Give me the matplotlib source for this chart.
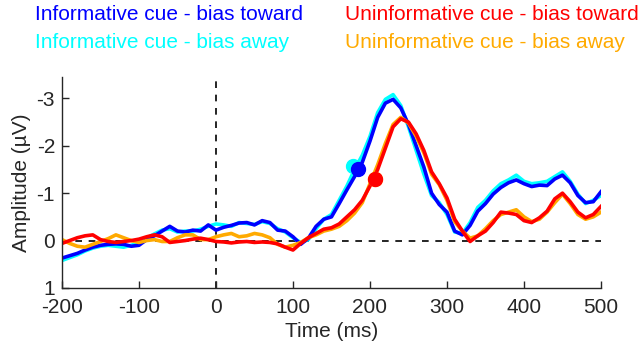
import matplotlib
matplotlib.use("Agg")
import matplotlib.pyplot as plt
import numpy as np

plt.rcParams['font.family'] = ['Liberation Sans', 'DejaVu Sans']

time_ms = np.arange(-200, 501, 10)

# informative cue - bias toward (blue)
info_toward = [0.37, 0.32, 0.27, 0.20, 0.14, 0.10, 0.08, 0.07, 0.08, 0.12,
               0.10, -0.02, -0.10, -0.20, -0.30, -0.20, -0.18, -0.22, -0.20, -0.33,
               -0.22, -0.28, -0.32, -0.37, -0.38, -0.33, -0.42, -0.38, -0.22, -0.20,
               -0.08, 0.08, -0.05, -0.30, -0.45, -0.50, -0.78, -1.07, -1.35, -1.65,
               -2.10, -2.60, -2.90, -2.98, -2.80, -2.45, -2.00, -1.55, -1.00, -0.76,
               -0.60, -0.20, -0.12, -0.32, -0.62, -0.78, -0.98, -1.12, -1.22, -1.28,
               -1.20, -1.14, -1.17, -1.16, -1.30, -1.38, -1.22, -0.95, -0.80, -0.82,
               -1.03]
# informative cue - bias away (cyan)
info_away = [0.42, 0.36, 0.30, 0.22, 0.16, 0.12, 0.10, 0.12, 0.14, 0.10,
             0.04, -0.05, -0.14, -0.22, -0.25, -0.18, -0.20, -0.20, -0.24, -0.30,
             -0.35, -0.33, -0.30, -0.38, -0.36, -0.34, -0.40, -0.36, -0.25, -0.18,
             -0.06, 0.04, -0.02, -0.25, -0.45, -0.55, -0.85, -1.15, -1.50, -1.80,
             -2.20, -2.70, -2.98, -3.08, -2.85, -2.40, -1.90, -1.40, -0.95, -0.80,
             -0.55, -0.18, -0.15, -0.38, -0.70, -0.85, -1.05, -1.20, -1.28, -1.38,
             -1.25, -1.20, -1.22, -1.25, -1.35, -1.45, -1.25, -0.98, -0.78, -0.85,
             -0.95]
# uninformative cue - bias toward (red)
uninfo_toward = [0.06, 0.00, -0.06, -0.10, -0.12, -0.02, 0.02, 0.04, 0.02, 0.00,
                 -0.03, -0.08, -0.12, -0.08, 0.04, 0.02, 0.00, -0.03, -0.05, -0.02,
                 0.02, 0.03, 0.05, 0.03, 0.02, 0.04, 0.03, 0.04, 0.07, 0.14,
                 0.20, 0.06, -0.06, -0.15, -0.24, -0.27, -0.35, -0.50, -0.65, -0.85,
                 -1.15, -1.50, -1.95, -2.40, -2.57, -2.50, -2.25, -1.90, -1.45, -1.20,
                 -0.90, -0.45, -0.20, 0.02, -0.10, -0.20, -0.38, -0.60, -0.58, -0.55,
                 -0.42, -0.38, -0.48, -0.62, -0.88, -1.00, -0.82, -0.60, -0.48, -0.55,
                 -0.72]
# uninformative cue - bias away (orange)
uninfo_away = [-0.02, 0.06, 0.12, 0.14, 0.08, 0.02, -0.04, -0.12, -0.06, 0.00,
               0.04, 0.00, -0.02, 0.02, 0.02, -0.06, -0.12, -0.12, -0.02, -0.02,
               -0.08, -0.12, -0.15, -0.08, -0.10, -0.15, -0.12, -0.06, 0.08, 0.14,
               0.10, 0.04, -0.06, -0.12, -0.20, -0.24, -0.30, -0.42, -0.58, -0.80,
               -1.20, -1.60, -2.05, -2.45, -2.60, -2.48, -2.20, -1.85, -1.40, -1.18,
               -0.85, -0.40, -0.20, -0.05, -0.10, -0.25, -0.42, -0.55, -0.60, -0.65,
               -0.50, -0.40, -0.45, -0.60, -0.80, -0.98, -0.78, -0.55, -0.45, -0.50,
               -0.60]

# half-amplitude latency markers (time, amplitude)
marker_t = [178, 185, 206, 206]
marker_v = [-1.58, -1.52, -1.30, -1.30]

colors = ['#00ffff', '#0000ff', '#ffaa00', '#ff0000']
series = [info_away, info_toward, uninfo_away, uninfo_toward]

fig = plt.figure(figsize=(6.39, 3.52), dpi=100)
ax = fig.add_axes([0.097, 0.182, 0.8435, 0.599])

ax.axhline(0, color='k', linestyle=(0, (4, 4)), linewidth=1.2, zorder=1)
ax.axvline(0, color='k', linestyle=(0, (4, 4)), linewidth=1.2, zorder=1)

for vals, c, t, v in zip(series, colors, marker_t, marker_v):
    ax.plot(time_ms, vals, color=c, linewidth=2.6, zorder=2)
    ax.plot(t, v, 'o', color=c, markersize=10, zorder=3)

ax.set_xlim(-200, 500)
ax.set_ylim(1, -3.45)
ax.set_xticks(np.arange(-200, 501, 100))
ax.set_yticks([-3, -2, -1, 0, 1])
ax.set_yticklabels(['-3', '-2', '-1', '0', '1'])
ax.set_xticklabels([str(v) for v in range(-200, 501, 100)])
ax.tick_params(direction='in', length=5, width=1, colors='#262626', labelsize=15)
ax.tick_params(axis='x', pad=7)
ax.tick_params(axis='y', pad=5)
for s in ['top', 'right']:
    ax.spines[s].set_visible(False)
for s in ['left', 'bottom']:
    ax.spines[s].set_color('#262626')
    ax.spines[s].set_linewidth(1)
ax.set_xlabel('Time (ms)', fontsize=15, color='#262626', labelpad=4)
ax.set_ylabel('Amplitude (\u00b5V)', fontsize=15, color='#262626', labelpad=4)

# legend as coloured text
fig.text(35 / 639, 1 - 15 / 352, 'Informative cue - bias toward', color='#0000ff',
         fontsize=15, va='center')
fig.text(35 / 639, 1 - 42 / 352, 'Informative cue - bias away', color='#00ffff',
         fontsize=15, va='center')
fig.text(345 / 639, 1 - 15 / 352, 'Uninformative cue - bias toward', color='#ff0000',
         fontsize=15, va='center')
fig.text(345 / 639, 1 - 42 / 352, 'Uninformative cue - bias away', color='#ffaa00',
         fontsize=15, va='center')

fig.savefig('out.png', dpi=100)
